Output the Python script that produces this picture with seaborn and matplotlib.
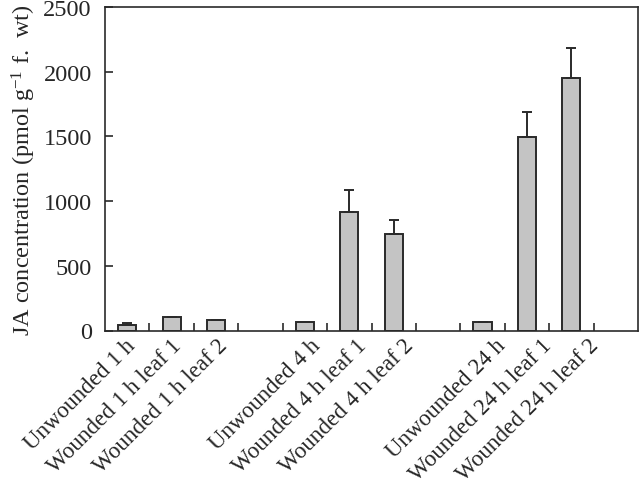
import matplotlib
matplotlib.use("Agg")
import matplotlib.pyplot as plt
import seaborn as sns
import pandas as pd
import numpy as np

categories = ["Unwounded 1 h", "Wounded 1 h leaf 1", "Wounded 1 h leaf 2",
              "Unwounded 4 h", "Wounded 4 h leaf 1", "Wounded 4 h leaf 2",
              "Unwounded 24 h", "Wounded 24 h leaf 1", "Wounded 24 h leaf 2"]
values = [44, 108, 82, 63, 912, 748, 63, 1492, 1948]
errors = [12, 0, 0, 0, 170, 108, 0, 200, 236]
y_ticks = [0, 500, 1000, 1500, 2000, 2500]

sns.set_theme(style="white")
plt.rcParams["font.family"] = ["Liberation Serif", "DejaVu Serif"]
plt.rcParams["mathtext.fontset"] = "custom"
plt.rcParams["mathtext.rm"] = "Liberation Serif"
plt.rcParams["mathtext.it"] = "Liberation Serif:italic"

# order with blank slots between groups
order = categories[0:3] + [" "] + categories[3:6] + ["  "] + categories[6:9] + ["   "]
df = pd.DataFrame({"cat": categories, "val": values})

fig = plt.figure(figsize=(6.4, 4.89), dpi=100)
ax = fig.add_axes([105/640, 1 - 331.5/489, (638-105)/640, (331.5-8)/489])

sns.barplot(data=df, x="cat", y="val", order=order, color="#c4c4c4",
            edgecolor="#2a2a2a", linewidth=1.4, width=0.41, errorbar=None,
            saturation=1, ax=ax)

pos = np.array([order.index(c) for c in categories], dtype=float)
err_vals = [e if e > 0 else np.nan for e in errors]
ax.errorbar(pos, values, yerr=[np.zeros(len(values)), err_vals], fmt="none",
            ecolor="#2a2a2a", elinewidth=1.4, capsize=3.3, capthick=1.4)

ax.set_xlim(-0.5, 11.5)
ax.set_ylim(0, 2500)
ax.set_yticks(y_ticks)
ax.set_yticklabels([str(t) for t in y_ticks], fontsize=17.5)
ax.set_ylabel("JA concentration (pmol g$^{-1}$ f.  wt)", fontsize=17.5, labelpad=4)
ax.set_xlabel("")

# category labels sit at a slightly wider pitch than the bars
label_pos = pos * 1.043 - 0.06
ax.set_xticks(label_pos)
ax.set_xticklabels(categories, rotation=45, ha="right", rotation_mode="anchor",
                   fontsize=16.6)
ax.set_xticks(np.arange(0.5, 11, 1.0), minor=True)
ax.tick_params(axis="x", which="major", length=0, pad=3)
ax.tick_params(axis="x", which="minor", direction="in", length=6, width=1.2,
               color="#2a2a2a", bottom=True)
ax.tick_params(axis="y", direction="in", length=6, width=1.2, color="#2a2a2a",
               left=True, pad=9.5)
for s in ax.spines.values():
    s.set_visible(True)
    s.set_color("#2a2a2a")
    s.set_linewidth(1.2)

fig.savefig("out.png", dpi=100)
